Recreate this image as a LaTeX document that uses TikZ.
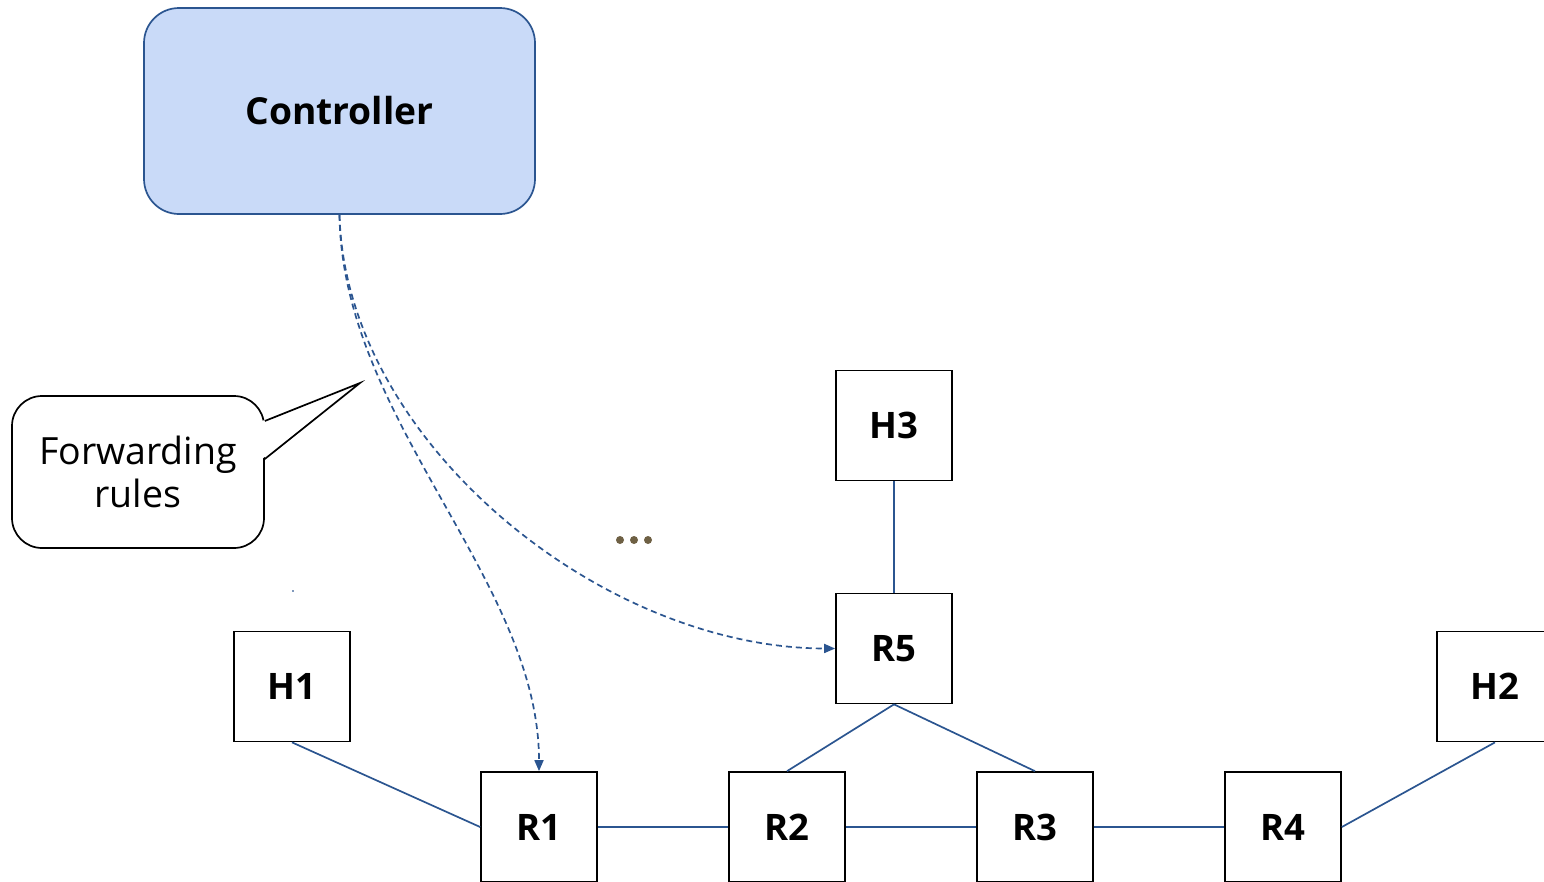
\documentclass[tikz,border=0pt]{standalone}
\usepackage{fontspec}
\setmainfont{Open Sans}
\usetikzlibrary{arrows.meta}
\definecolor{linkblue}{HTML}{2B5590}
\definecolor{ctrlfill}{HTML}{C9DAF8}
\definecolor{dotbrown}{HTML}{6E6044}
\begin{document}
\begin{tikzpicture}[x=1pt,y=-1pt,
  devbox/.style={draw=black, line width=1.7pt, minimum width=116pt, minimum height=110pt,
    inner sep=0pt, fill=white, font=\fontsize{36.5}{40}\selectfont\bfseries},
  link/.style={draw=linkblue, line width=1.7pt},
  ctrlpath/.style={draw=linkblue, line width=1.7pt, dash pattern=on 6pt off 4pt,
    -{Triangle[length=11pt,width=9pt]}},
  notebox/.style={draw=black, line width=1.7pt, rounded corners=30pt, fill=white,
    minimum width=252pt, minimum height=152pt, align=center,
    font=\fontsize{37.5}{43}\selectfont}]
\useasboundingbox (0,0) rectangle (1544,881);
\clip (0,0) rectangle (1544,881);

% controller
\node[draw=linkblue, line width=1.7pt, fill=ctrlfill, rounded corners=35pt,
  minimum width=391pt, minimum height=206pt, inner sep=0pt,
  font=\fontsize{37.2}{40}\selectfont\bfseries] (ctrl) at (339.5,111) {Controller};

% hosts and routers
\node[devbox] (h3) at (894,425.5) {H3};
\node[devbox] (r5) at (894,648.5) {R5};
\node[devbox] (h1) at (292,686.5) {H1};
\node[devbox] (h2) at (1495,686.5) {H2};
\node[devbox] (r1) at (539,827) {R1};
\node[devbox] (r2) at (787,827) {R2};
\node[devbox] (r3) at (1035,827) {R3};
\node[devbox] (r4) at (1283,827) {R4};

% links
\draw[link] (h1.south) -- (r1.west);
\draw[link] (r1.east) -- (r2.west);
\draw[link] (r2.east) -- (r3.west);
\draw[link] (r3.east) -- (r4.west);
\draw[link] (r4.east) -- (h2.south);
\draw[link] (h3.south) -- (r5.north);
\draw[link] (r5.south) -- (r2.north);
\draw[link] (r5.south) -- (r3.north);

% rule installation from the controller
\draw[ctrlpath] (ctrl.south) .. controls (342,420) and (539,580) .. (r1.north);
\draw[ctrlpath] (ctrl.south) .. controls (345,440) and (600,648) .. (r5.west);

% speech bubble
\node[notebox] (note) at (138,472) {Forwarding\\rules};
\coordinate (tip) at (360,383);
\fill[white] (262,421) -- (tip) -- (262,459) -- cycle;
\draw[line width=1.7pt, line join=miter] (264.8,421) -- (tip) -- (264.8,459);

% ellipsis
\foreach \x in {620,634,648} \fill[dotbrown] (\x,540) circle (4pt);

% stray mark
\fill[linkblue!60] (292.3,590.3) rectangle ++(1.6,1.6);
\end{tikzpicture}
\end{document}
